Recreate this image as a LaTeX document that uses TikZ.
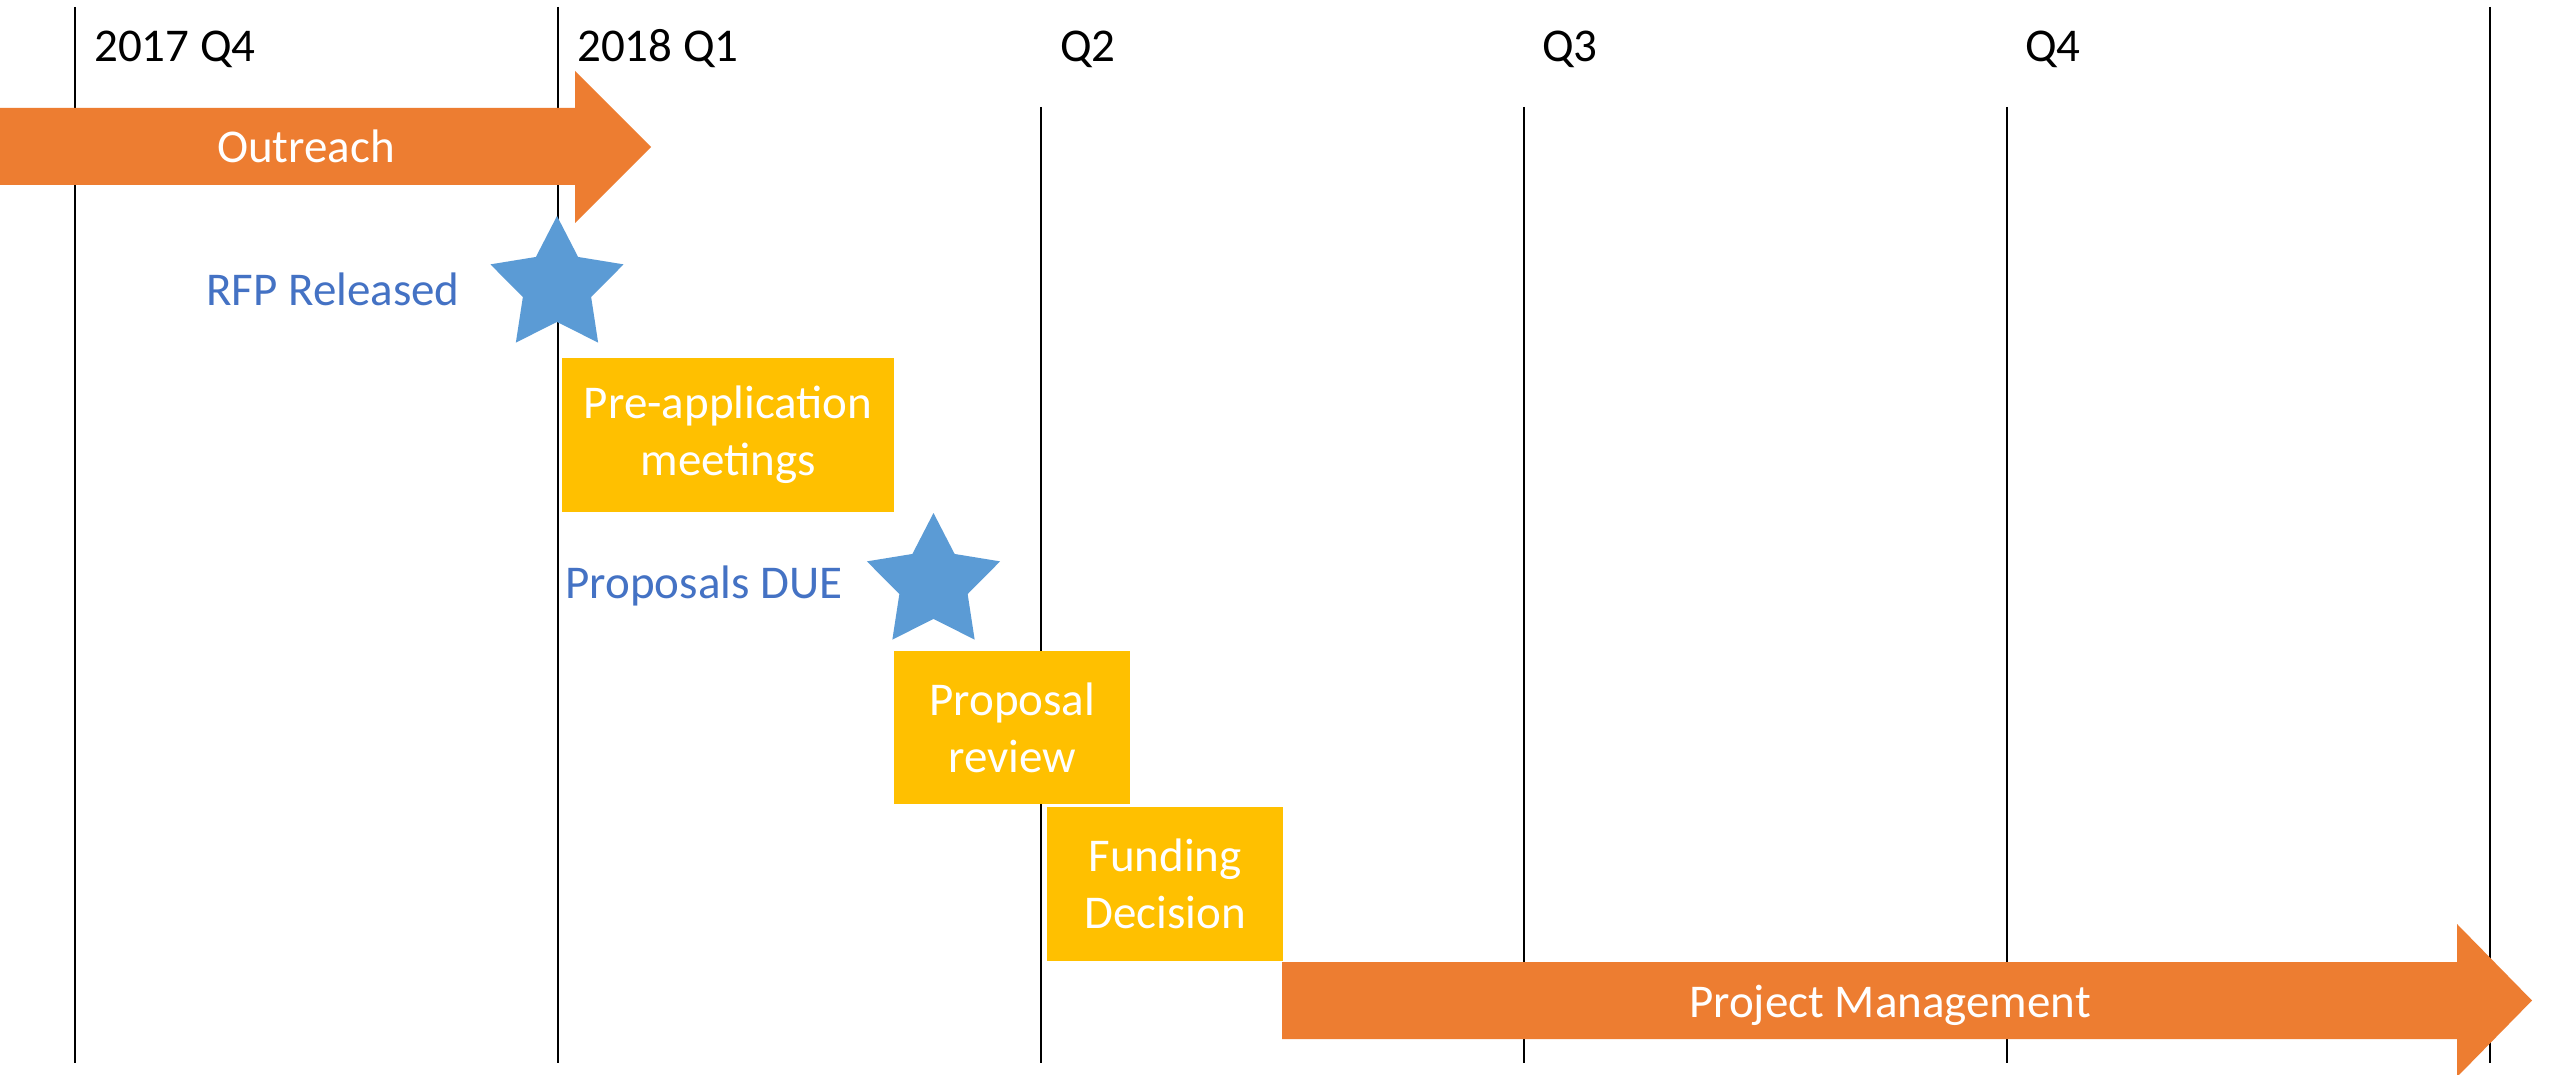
\documentclass[tikz,border=0pt]{standalone}
\usepackage{fontspec}
\setmainfont{Carlito}
\usetikzlibrary{shapes.geometric}
\definecolor{orangeA}{HTML}{ED7D31}
\definecolor{goldA}{HTML}{FFC000}
\definecolor{starblue}{HTML}{5B9BD5}
\definecolor{textblue}{HTML}{4472C4}
\begin{document}
\begin{tikzpicture}[x=1pt,y=-1pt,
  big/.style={font=\fontsize{47}{57}\selectfont},
  qline/.style={line width=2.5pt, draw=black},
  qlabel/.style={big, anchor=base west, inner sep=0pt},
  taskbox/.style={fill=goldA, text=white, big, align=center, inner sep=0pt, anchor=north west},
  milestone/.style={star, star points=5, star point ratio=1.95, minimum size=140pt, inner sep=0pt, fill=starblue},
  mslabel/.style={big, text=textblue, anchor=base, inner sep=0pt},
  arrowtext/.style={big, text=white, anchor=base, inner sep=0pt},
  phase/.style={fill=orangeA}]
\useasboundingbox[fill=white] (0,0) rectangle (2552,1075);
% quarter lines
\coordinate (l1t) at (75,7);    \coordinate (l1b) at (75,1063);
\coordinate (l2t) at (558,7);   \coordinate (l2b) at (558,1063);
\coordinate (l3t) at (1041,107);\coordinate (l3b) at (1041,1063);
\coordinate (l4t) at (1524,107);\coordinate (l4b) at (1524,1063);
\coordinate (l5t) at (2007,107);\coordinate (l5b) at (2007,1063);
\coordinate (l6t) at (2490,7);  \coordinate (l6b) at (2490,1063);
\foreach \i in {1,...,6} {\draw[qline] (l\i t) -- (l\i b);}
% quarter labels
\node[qlabel] (q17) at (94,62) {2017 Q4};
\node[qlabel] (q18) at (577,62) {2018 Q1};
\node[qlabel] (q2) at (1060,62) {Q2};
\node[qlabel] (q3) at (1542,62) {Q3};
\node[qlabel] (q4) at (2025,62) {Q4};
% outreach arrow
\fill[phase] (-5,108) -- (575,108) -- (575,71) -- (651,147) -- (575,223) -- (575,185) -- (-5,185) -- cycle;
\node[arrowtext] (outreach) at (306,163) {Outreach};
% project management arrow
\fill[phase] (1282,962) -- (2457,962) -- (2457,924) -- (2532,1000.5) -- (2457,1077) -- (2457,1039) -- (1282,1039) -- cycle;
\node[arrowtext] (pm) at (1890,1017) {Project Management};
% milestones
\node[milestone] (rfpstar) at (557,286) {};
\node[mslabel] (rfp) at (333,306) {RFP Released};
\node[milestone] (duestar) at (933.5,583) {};
\node[mslabel] (due) at (704,598) {Proposals DUE};
% tasks
\node[taskbox, minimum width=332pt, minimum height=154pt] (preapp) at (562,358) {Pre-application\\meetings};
\node[taskbox, minimum width=236pt, minimum height=153pt] (review) at (894,651) {Proposal\\review};
\node[taskbox, minimum width=236pt, minimum height=154pt] (funding) at (1047,807) {Funding\\Decision};
\end{tikzpicture}
\end{document}
